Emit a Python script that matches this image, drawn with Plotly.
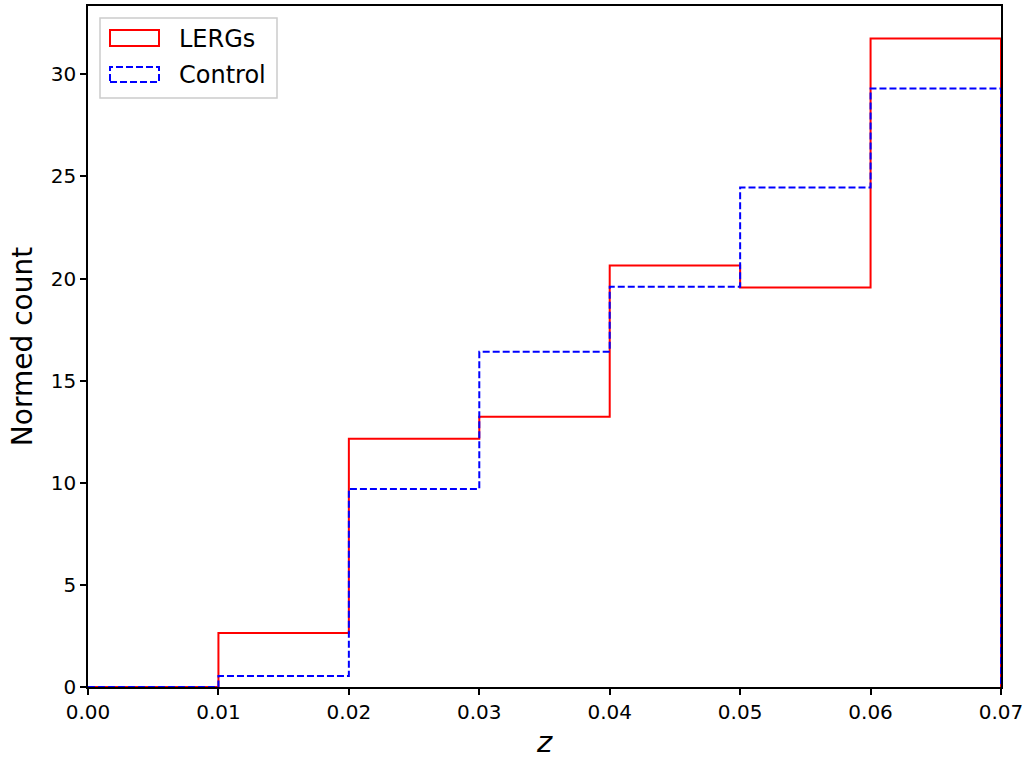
import plotly.graph_objects as go

bin_edges = [0.00, 0.01, 0.02, 0.03, 0.04, 0.05, 0.06, 0.07]
lergs_counts = [0.0, 2.65, 12.16, 13.24, 20.64, 19.56, 31.76]
control_counts = [0.0, 0.54, 9.70, 16.42, 19.60, 24.46, 29.31]
series_names = ["LERGs", "Control"]
x_ticks = [0.00, 0.01, 0.02, 0.03, 0.04, 0.05, 0.06, 0.07]
y_ticks = [0, 5, 10, 15, 20, 25, 30]

W, H = 1025, 759
L, R, T, B = 88, 1001, 6, 687


def step_path(edges, counts):
    xs = [edges[0]]
    ys = [0.0]
    for i, c in enumerate(counts):
        xs += [edges[i], edges[i + 1]]
        ys += [c, c]
    xs.append(edges[-1])
    ys.append(0.0)
    return xs, ys


fig = go.Figure()
xl, yl = step_path(bin_edges, lergs_counts)
xc, yc = step_path(bin_edges, control_counts)
fig.add_trace(go.Scatter(x=xl, y=yl, mode="lines", name=series_names[0],
                         line=dict(color="red", width=2), showlegend=False))
fig.add_trace(go.Scatter(x=xc, y=yc, mode="lines", name=series_names[1],
                         line=dict(color="blue", width=2, dash="7px,3px"), showlegend=False))

ymax = max(max(lergs_counts), max(control_counts)) * 1.05


def px(xp):
    return (xp - L) / (R - L)


def py(yp):
    return (B - yp) / (B - T)


shapes = []
annotations = []
# legend box
shapes.append(dict(type="rect", xref="paper", yref="paper",
                   x0=px(100), x1=px(277), y0=py(98), y1=py(18),
                   line=dict(color="#cccccc", width=1.5), fillcolor="rgba(255,255,255,0.8)"))
shapes.append(dict(type="rect", xref="paper", yref="paper",
                   x0=px(110), x1=px(159), y0=py(46), y1=py(30),
                   line=dict(color="red", width=2)))
shapes.append(dict(type="rect", xref="paper", yref="paper",
                   x0=px(110), x1=px(159), y0=py(82), y1=py(67),
                   line=dict(color="blue", width=2, dash="7px,3px")))
annotations.append(dict(xref="paper", yref="paper", x=px(177), y=py(39),
                        text=series_names[0], showarrow=False, xanchor="left", yanchor="middle",
                        font=dict(size=24, color="black")))
annotations.append(dict(xref="paper", yref="paper", x=px(177), y=py(75),
                        text=series_names[1], showarrow=False, xanchor="left", yanchor="middle",
                        font=dict(size=24, color="black")))

fig.update_layout(
    width=W, height=H,
    margin=dict(l=L, r=W - R, t=T, b=H - B, autoexpand=False),
    paper_bgcolor="white", plot_bgcolor="white",
    font=dict(family="DejaVu Sans", color="black", size=20),
    shapes=shapes, annotations=annotations,
    xaxis=dict(range=[bin_edges[0], bin_edges[-1]], tickvals=x_ticks,
               ticktext=[f"{v:.2f}" for v in x_ticks],
               ticks="outside", ticklen=6, tickwidth=1.5, tickcolor="black",
               showline=True, linecolor="black", linewidth=1.5, mirror=True,
               showgrid=False, zeroline=False, automargin=False,
               title=dict(text="<i>z</i>", font=dict(size=29), standoff=10)),
    yaxis=dict(range=[0, ymax], tickvals=y_ticks,
               ticks="outside", ticklen=6, tickwidth=1.5, tickcolor="black",
               showline=True, linecolor="black", linewidth=1.5, mirror=True,
               showgrid=False, zeroline=False, automargin=False,
               title=dict(text="Normed count", font=dict(size=28), standoff=10)),
)

fig.write_html("out.html", config={"displayModeBar": False},
               post_script="document.body.style.margin='0';document.body.style.padding='0';")
